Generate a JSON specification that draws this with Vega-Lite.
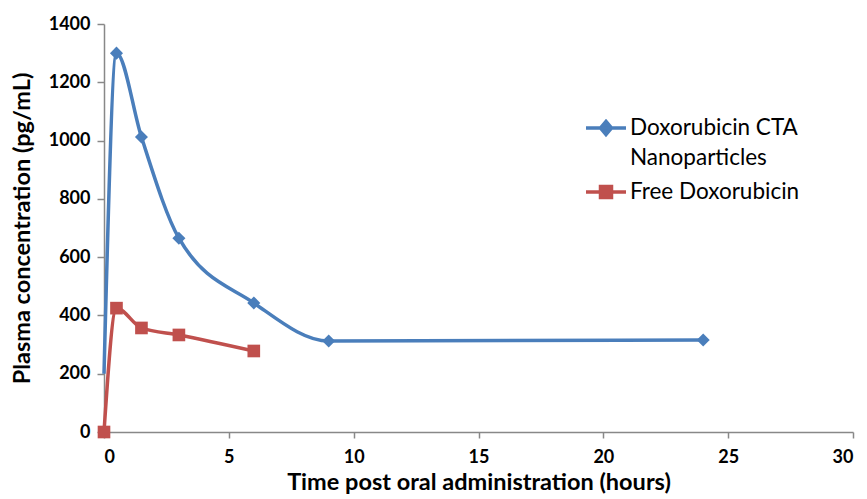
{
  "$schema": "https://vega.github.io/schema/vega-lite/v6.json",
  "width": 749,
  "height": 408,
  "autosize": {"type": "none"},
  "padding": {"left": 104, "top": 24, "right": 14, "bottom": 67},
  "background": "white",
  "config": {
    "view": {"stroke": null},
    "font": "Lato"
  },
  "data": {
    "values": [
      {"series": "Doxorubicin CTA Nanoparticles", "t": 0, "c": 200, "m": false},
      {"series": "Doxorubicin CTA Nanoparticles", "t": 0.5, "c": 1300, "m": true},
      {"series": "Doxorubicin CTA Nanoparticles", "t": 1.5, "c": 1012, "m": true},
      {"series": "Doxorubicin CTA Nanoparticles", "t": 3, "c": 665, "m": true},
      {"series": "Doxorubicin CTA Nanoparticles", "t": 6, "c": 443, "m": true},
      {"series": "Doxorubicin CTA Nanoparticles", "t": 9, "c": 312, "m": true},
      {"series": "Doxorubicin CTA Nanoparticles", "t": 24, "c": 316, "m": true},
      {"series": "Free Doxorubicin", "t": 0, "c": 0, "m": true},
      {"series": "Free Doxorubicin", "t": 0.5, "c": 425, "m": true},
      {"series": "Free Doxorubicin", "t": 1.5, "c": 357, "m": true},
      {"series": "Free Doxorubicin", "t": 3, "c": 333, "m": true},
      {"series": "Free Doxorubicin", "t": 6, "c": 278, "m": true}
    ]
  },
  "encoding": {
    "x": {
      "field": "t", "type": "quantitative",
      "scale": {"domain": [0, 30], "nice": false},
      "axis": {
        "values": [0, 5, 10, 15, 20, 25, 30],
        "format": "d",
        "grid": false,
        "title": "Time post oral administration (hours)",
        "titleFontSize": 23.5, "titleFontWeight": "bold", "titleColor": "black",
        "titleBaseline": "alphabetic",
        "titleY": 57,
        "labelFontSize": 18, "labelFontWeight": "bold", "labelColor": "black",
        "labelPadding": 10,
        "domainColor": "#888888", "domainWidth": 1.5, "tickColor": "#888888", "tickSize": 6, "tickWidth": 1.5
      }
    },
    "y": {
      "field": "c", "type": "quantitative",
      "scale": {"domain": [0, 1400], "nice": false},
      "axis": {
        "values": [0, 200, 400, 600, 800, 1000, 1200, 1400],
        "format": "d",
        "grid": false,
        "title": "Plasma concentration (pg/mL)",
        "titleFontSize": 23.5, "titleFontWeight": "bold", "titleColor": "black",
        "titlePadding": 14,
        "labelFontSize": 18, "labelFontWeight": "bold", "labelColor": "black",
        "labelPadding": 7,
        "domainColor": "#888888", "domainWidth": 1.5, "tickColor": "#888888", "tickSize": 7, "tickWidth": 1.5
      }
    },
    "color": {
      "field": "series", "type": "nominal",
      "scale": {"domain": ["Doxorubicin CTA Nanoparticles", "Free Doxorubicin"], "range": ["#4a7ebb", "#c0504d"]},
      "legend": {
        "title": null,
        "orient": "none",
        "legendX": 490,
        "legendY": 92,
        "labelFontSize": 22.5,
        "labelFont": "Lato",
        "labelColor": "black",
        "labelLimit": 400,
        "labelOffset": 12,
        "labelExpr": "datum.label == 'Doxorubicin CTA Nanoparticles' ? ['Doxorubicin CTA', 'Nanoparticles'] : datum.label",
        "rowPadding": 9,
        "symbolSize": 400,
        "symbolType": "M-2,0L2,0M0,-0.65L0.55,0L0,0.65L-0.55,0Z",
        "symbolStrokeWidth": 3.5,
        "encode": {
          "labels": {
            "update": {"lineHeight": {"value": 30}}
          },
          "symbols": {
            "update": {
              "shape": {"signal": "datum.value == 'Free Doxorubicin' ? 'M-2,0L2,0M-0.55,-0.55L0.55,-0.55L0.55,0.55L-0.55,0.55Z' : 'M-2,0L2,0M0,-0.65L0.55,0L0,0.65L-0.55,0Z'"},
              "fill": {"signal": "datum.value == 'Free Doxorubicin' ? '#c0504d' : '#4a7ebb'"},
              "stroke": {"signal": "datum.value == 'Free Doxorubicin' ? '#c0504d' : '#4a7ebb'"},
              "opacity": {"value": 1}
            }
          }
        }
      }
    }
  },
  "layer": [
    {
      "mark": {"type": "line", "interpolate": "monotone", "strokeWidth": 3.5}
    },
    {
      "transform": [{"filter": "datum.m && datum.series == 'Doxorubicin CTA Nanoparticles'"}],
      "mark": {"type": "point", "filled": true, "opacity": 1, "shape": "diamond", "size": 170}
    },
    {
      "transform": [{"filter": "datum.m && datum.series == 'Free Doxorubicin'"}],
      "mark": {"type": "point", "filled": true, "opacity": 1, "shape": "square", "size": 160}
    }
  ]
}
